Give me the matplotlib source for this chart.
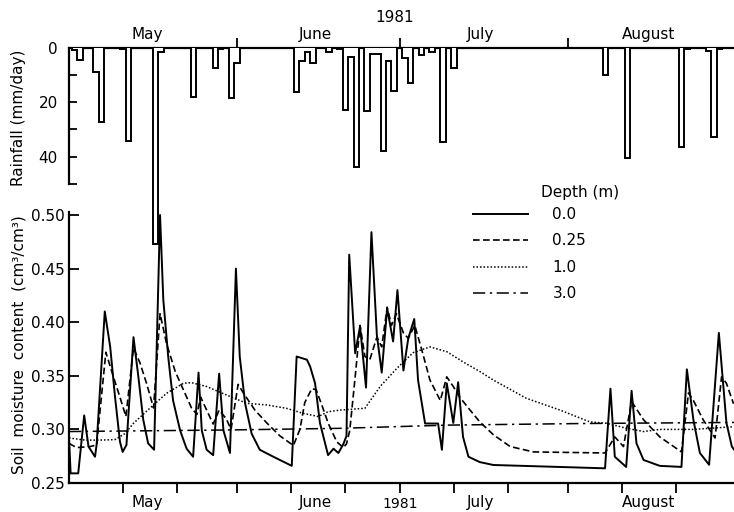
import numpy as np
import matplotlib
matplotlib.use("Agg")
import matplotlib.pyplot as plt

# days counted from 1 May 1981
rain_day = [1, 2, 5, 6, 10, 11, 16, 17, 23, 27, 28, 30, 31, 42, 43, 44, 45, 48, 50, 51,
            52, 53, 54, 55, 56, 57, 58, 59, 60, 62, 63, 64, 65, 67, 69, 71, 99, 103, 113, 114,
            118, 119, 120]
rain_mm = [0.8, 4.6, 9.0, 27.3, 0.7, 34.2, 72.0, 1.5, 18.1, 7.5, 0.6, 18.4, 5.5, 16.4, 4.8, 1.5, 5.7, 1.5, 0.6, 23.0,
           3.5, 43.8, 0.3, 23.3, 2.2, 2.2, 37.9, 4.8, 15.8, 3.9, 12.9, 0.3, 2.8, 1.6, 34.5, 7.6, 9.9, 40.3, 36.5, 0.5,
           1.3, 32.7, 0.5]

d00_day = [0.0, 0.3, 1.7, 2.8, 3.6, 4.8, 5.1, 6.6, 7.6, 8.5, 9.4, 9.9, 10.6, 11.9, 12.8, 13.7, 14.6, 15.7,
           16.8, 17.4, 18.3, 19.2, 20.5, 21.7, 22.9, 23.9, 24.5, 25.4, 26.6, 27.7, 28.5, 29.7, 30.8, 31.5,
           32.5, 33.7, 35.2, 37.7, 41.1, 42.0, 43.9, 44.5, 45.4, 46.3, 47.8, 48.8, 49.7, 50.6, 51.2, 51.7,
           52.8, 53.7, 54.8, 55.8, 56.8, 57.7, 58.7, 59.8, 60.6, 61.7, 62.6, 63.7, 64.4, 65.7, 68.1, 68.8,
           69.7, 70.9, 71.8, 72.7, 73.7, 75.8, 78.3, 98.9, 99.9, 100.7, 102.8, 103.8, 104.7, 106.0, 109.0,
           113.0, 114.0, 115.2, 116.4, 118.1, 119.9, 121.3, 122.3, 123.0]
d00_val = [0.292, 0.259, 0.259, 0.313, 0.284, 0.2745, 0.286, 0.410, 0.377, 0.330, 0.2885, 0.279, 0.2855, 0.386,
           0.349, 0.309, 0.287, 0.281, 0.500, 0.421, 0.368, 0.327, 0.299, 0.282, 0.2745, 0.353, 0.299, 0.281,
           0.276, 0.352, 0.299, 0.278, 0.450, 0.368, 0.324, 0.296, 0.281, 0.2745, 0.266, 0.368, 0.365, 0.3585,
           0.343, 0.306, 0.276, 0.282, 0.278, 0.286, 0.294, 0.463, 0.371, 0.396, 0.339, 0.484, 0.388, 0.353,
           0.413, 0.382, 0.430, 0.355, 0.385, 0.403, 0.346, 0.3055, 0.3055, 0.281, 0.343, 0.306, 0.344, 0.293,
           0.2745, 0.2695, 0.2668, 0.2637, 0.338, 0.2745, 0.265, 0.336, 0.287, 0.2715, 0.266, 0.265, 0.356,
           0.309, 0.278, 0.267, 0.390, 0.306, 0.284, 0.279]

d025_day = [0.0, 1.4, 3.9, 5.1, 6.8, 8.2, 9.4, 10.5, 11.9, 13.1, 14.3, 15.6, 16.8, 18.0, 19.6, 21.1, 22.6,
            23.6, 24.3, 25.4, 26.6, 27.7, 29.0, 29.9, 31.2, 32.3, 34.3, 36.5, 38.9, 41.4, 42.6, 43.5, 44.8,
            45.6, 46.7, 47.8, 49.4, 50.6, 51.2, 51.8, 52.8, 53.7, 54.6, 55.5, 56.8, 57.7, 58.7, 59.5, 60.4,
            61.7, 62.6, 63.8, 65.1, 66.6, 68.5, 69.7, 70.9, 72.1, 74.0, 75.8, 78.3, 81.4, 85.7, 98.9, 100.7,
            102.3, 103.8, 106.0, 109.0, 113.0, 114.3, 115.2, 117.0, 119.2, 120.4, 121.3, 122.6]
d025_val = [0.287, 0.283, 0.284, 0.2855, 0.372, 0.349, 0.330, 0.312, 0.376, 0.362, 0.343, 0.320, 0.408, 0.380,
            0.354, 0.337, 0.320, 0.314, 0.330, 0.318, 0.305, 0.318, 0.310, 0.300, 0.342, 0.333, 0.318, 0.306,
            0.294, 0.285, 0.300, 0.325, 0.338, 0.337, 0.322, 0.306, 0.2885, 0.283, 0.2865, 0.299, 0.349, 0.397,
            0.368, 0.365, 0.386, 0.377, 0.414, 0.397, 0.408, 0.390, 0.385, 0.397, 0.374, 0.346, 0.327, 0.349,
            0.340, 0.330, 0.318, 0.307, 0.295, 0.284, 0.279, 0.278, 0.293, 0.284, 0.326, 0.309, 0.293, 0.279,
            0.334, 0.327, 0.309, 0.292, 0.349, 0.343, 0.324]

d10_day = [0.0, 3.0, 5.7, 8.5, 10.3, 11.9, 14.9, 18.0, 21.1, 22.6, 25.4, 29.1, 32.8, 36.5, 40.1, 43.2, 46.0,
           47.8, 50.0, 54.6, 57.4, 60.5, 63.5, 66.6, 69.7, 72.7, 75.8, 78.3, 84.4, 90.6, 96.1, 99.2, 102.9,
           106.0, 109.0, 115.2, 122.6]
d10_val = [0.292, 0.290, 0.290, 0.2905, 0.296, 0.3057, 0.3197, 0.3337, 0.343, 0.3436, 0.340, 0.332, 0.3243,
           0.3228, 0.3197, 0.315, 0.312, 0.3165, 0.318, 0.3197, 0.340, 0.357, 0.3716, 0.377, 0.3725, 0.363,
           0.354, 0.346, 0.329, 0.318, 0.307, 0.3057, 0.301, 0.298, 0.300, 0.300, 0.3025]

d30_day = [0, 30, 50, 60, 70, 95, 123]
d30_val = [0.298, 0.2995, 0.301, 0.3025, 0.304, 0.3055, 0.3065]

depth_labels = ['0.0', '0.25', '1.0', '3.0']
month_names = ['May', 'June', 'July', 'August']
month_mid = [14.5, 45.5, 76, 107]
month_start = [31, 61, 92]
ten_day_ticks = [10, 20, 31, 41, 51, 61, 71, 81, 92, 102, 112]

W, H = 734, 512
plt.rcParams['font.family'] = ['DejaVu Sans']
plt.rcParams['font.size'] = 11
fig = plt.figure(figsize=(W / 100, H / 100), dpi=100)

x0 = 69 / W
xmax = (W - 69) / 5.42
bot = (H - 483) / H

# soil moisture panel
ax = fig.add_axes([x0, bot, 1 - x0, (483 - 212) / H])
l1, = ax.plot(d00_day, d00_val, color='k', lw=1.4, ls='-')
l2, = ax.plot(d025_day, d025_val, color='k', lw=1.2, ls=(0, (4, 2)))
l3, = ax.plot(d10_day, d10_val, color='k', lw=1.1, ls=(0, (1, 1.3)))
l4, = ax.plot(d30_day, d30_val, color='k', lw=1.1, ls=(0, (8, 3, 1.5, 3)))
ax.set_xlim(0, xmax)
ax.set_ylim(0.25, 0.25 + 271 / 1072)
ax.set_yticks([0.25, 0.30, 0.35, 0.40, 0.45, 0.50], ['0.25', '0.30', '0.35', '0.40', '0.45', '0.50'])
ax.set_xticks(ten_day_ticks, [])
ax.set_xticks(month_mid, month_names, minor=True)
ax.tick_params(axis='y', direction='in', length=7, width=1.3, pad=3)
ax.tick_params(axis='x', which='major', direction='out', length=7, width=1.3)
ax.tick_params(axis='x', which='minor', length=0, pad=9)
for s in ['top', 'right']:
  ax.spines[s].set_visible(False)
for s in ['left', 'bottom']:
  ax.spines[s].set_linewidth(1.6)
ax.patch.set_alpha(0)

leg = ax.legend([l1, l2, l3, l4], depth_labels, loc='upper left', frameon=False,
                bbox_to_anchor=(473 / W, 1 - 207 / H), bbox_transform=fig.transFigure,
                handlelength=3.6, handletextpad=1.6, labelspacing=0.75, borderpad=0, borderaxespad=0)
fig.text(580 / W, 1 - 192 / H, 'Depth (m)', ha='center', va='center')

# rainfall panel (inverted, drawn from the top spine down)
ax2 = fig.add_axes([x0, bot, 1 - x0, (483 - 47.5) / H])
rain = np.zeros(124)
rain[rain_day] = rain_mm
edges = np.arange(-0.5, 124)
ax2.stairs(rain, edges, baseline=0, fill=True, color='white', zorder=3)
ax2.stairs(rain, edges, baseline=0, color='k', lw=1.4, zorder=4)
ax2.set_xlim(0, xmax)
ax2.set_ylim((483 - 47.5) / 2.73, 0)
ax2.patch.set_alpha(0)
for s in ['bottom', 'right']:
  ax2.spines[s].set_visible(False)
ax2.spines['left'].set_bounds(0, 50)
ax2.spines['left'].set_linewidth(1.6)
ax2.spines['top'].set_linewidth(1.6)
ax2.set_yticks([0, 20, 40], ['0', '20', '40'])
ax2.set_yticks([10, 30, 50], minor=True)
ax2.tick_params(axis='y', which='both', direction='in', length=6, width=1.3, pad=8)
ax2.xaxis.tick_top()
ax2.set_xticks(month_start, [])
ax2.set_xticks(month_mid, month_names, minor=True)
ax2.tick_params(axis='x', which='major', direction='out', length=7, width=1.3)
ax2.tick_params(axis='x', which='minor', top=True, bottom=False, length=0, pad=4)

fig.text(19 / W, 1 - 118 / H, 'Rainfall (mm/day)', rotation=90, ha='center', va='center')
fig.text(19 / W, 1 - 345 / H, 'Soil  moisture  content  (cm³/cm³)', rotation=90, ha='center', va='center')
fig.text(395 / W, 1 - 17.5 / H, '1981', ha='center', va='center')
fig.text(400 / W, 1 - 511 / H, '1981', ha='center', va='bottom', fontsize=10)

fig.savefig('out.png', dpi=100)
